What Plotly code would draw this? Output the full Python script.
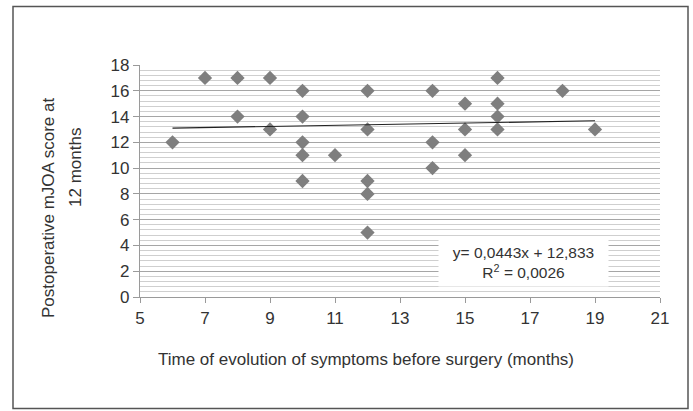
import plotly.graph_objects as go

# Data
months = [6, 7, 8, 8, 9, 9, 10, 10, 10, 10, 10, 11, 12, 12, 12, 12, 12,
          14, 14, 14, 15, 15, 15, 16, 16, 16, 16, 18, 19]
mjoa = [12, 17, 17, 14, 17, 13, 16, 14, 12, 11, 9, 11, 16, 13, 9, 8, 5,
        16, 12, 10, 15, 13, 11, 17, 15, 14, 13, 16, 13]
slope = 0.0443
intercept = 12.833
r2 = 0.0026
x_ticks = [5, 7, 9, 11, 13, 15, 17, 19, 21]
y_ticks = [0, 2, 4, 6, 8, 10, 12, 14, 16, 18]

W, H = 693, 411
L, R, T, B = 140, 33, 65, 114
pw, ph = W - L - R, H - T - B

def px(x):
    return (x - L) / pw

def py(y):
    return (H - B - y) / ph

font = "Liberation Sans, Arial, Helvetica, sans-serif"
txt = "#333333"

fig = go.Figure()

fig.add_trace(go.Scatter(
    x=months, y=mjoa, mode="markers",
    marker=dict(symbol="diamond", size=11, color="#7f7f7f",
                line=dict(width=0)),
    showlegend=False, hoverinfo="x+y"))

xmin, xmax = min(months), max(months)
fig.add_trace(go.Scatter(
    x=[xmin, xmax], y=[slope * xmin + intercept, slope * xmax + intercept],
    mode="lines", line=dict(color="#222222", width=1.2),
    showlegend=False, hoverinfo="skip"))

fig.update_layout(
    width=W, height=H,
    margin=dict(l=L, r=R, t=T, b=B),
    paper_bgcolor="white", plot_bgcolor="white",
    font=dict(family=font, color=txt, size=17),
    xaxis=dict(range=[5, 21], tickvals=x_ticks, ticktext=[str(v) for v in x_ticks],
               showgrid=False, zeroline=False, showline=True,
               linecolor="#9a9a9a", linewidth=1.2,
               ticks="outside", ticklen=5, tickcolor="#9a9a9a",
               tickfont=dict(size=17, color=txt)),
    yaxis=dict(range=[0, 18], tickvals=y_ticks, ticktext=[str(v) for v in y_ticks],
               showgrid=True, gridcolor="#a6a6a6", gridwidth=1.3,
               zeroline=False, showline=True,
               linecolor="#9a9a9a", linewidth=1.2,
               ticks="outside", ticklen=6, tickcolor="#9a9a9a",
               tickfont=dict(size=17, color=txt),
               minor=dict(dtick=0.4, showgrid=True, gridcolor="#cfcfcf",
                          gridwidth=1, ticks="")),
)

# outer frame
fig.add_shape(type="rect", xref="paper", yref="paper",
              x0=px(13), x1=px(688), y0=py(408.5), y1=py(6.5),
              line=dict(color="#555555", width=1.5), fillcolor="rgba(0,0,0,0)",
              layer="above")

# axis titles
fig.add_annotation(xref="paper", yref="paper", x=px(366), y=py(359),
                   text="Time of evolution of symptoms before surgery (months)",
                   showarrow=False, font=dict(size=17, color=txt),
                   xanchor="center", yanchor="middle")
fig.add_annotation(xref="paper", yref="paper", x=px(48), y=py(208),
                   text="Postoperative mJOA score at", textangle=-90,
                   showarrow=False, font=dict(size=17, color=txt),
                   xanchor="center", yanchor="middle")
fig.add_annotation(xref="paper", yref="paper", x=px(75), y=py(168),
                   text="12 months", textangle=-90,
                   showarrow=False, font=dict(size=17, color=txt),
                   xanchor="center", yanchor="middle")

# equation box
eq_text = f"y= {str(slope).replace('.', ',')}x + {str(intercept).replace('.', ',')}<br>R<sup>2</sup> = {str(r2).replace('.', ',')}"
fig.add_annotation(xref="paper", yref="paper", x=px(523.5), y=py(262.5),
                   text=eq_text, showarrow=False,
                   font=dict(size=15.5, color=txt),
                   bgcolor="white", width=167, height=45,
                   xanchor="center", yanchor="middle", align="center")

fig.write_html("out.html")
